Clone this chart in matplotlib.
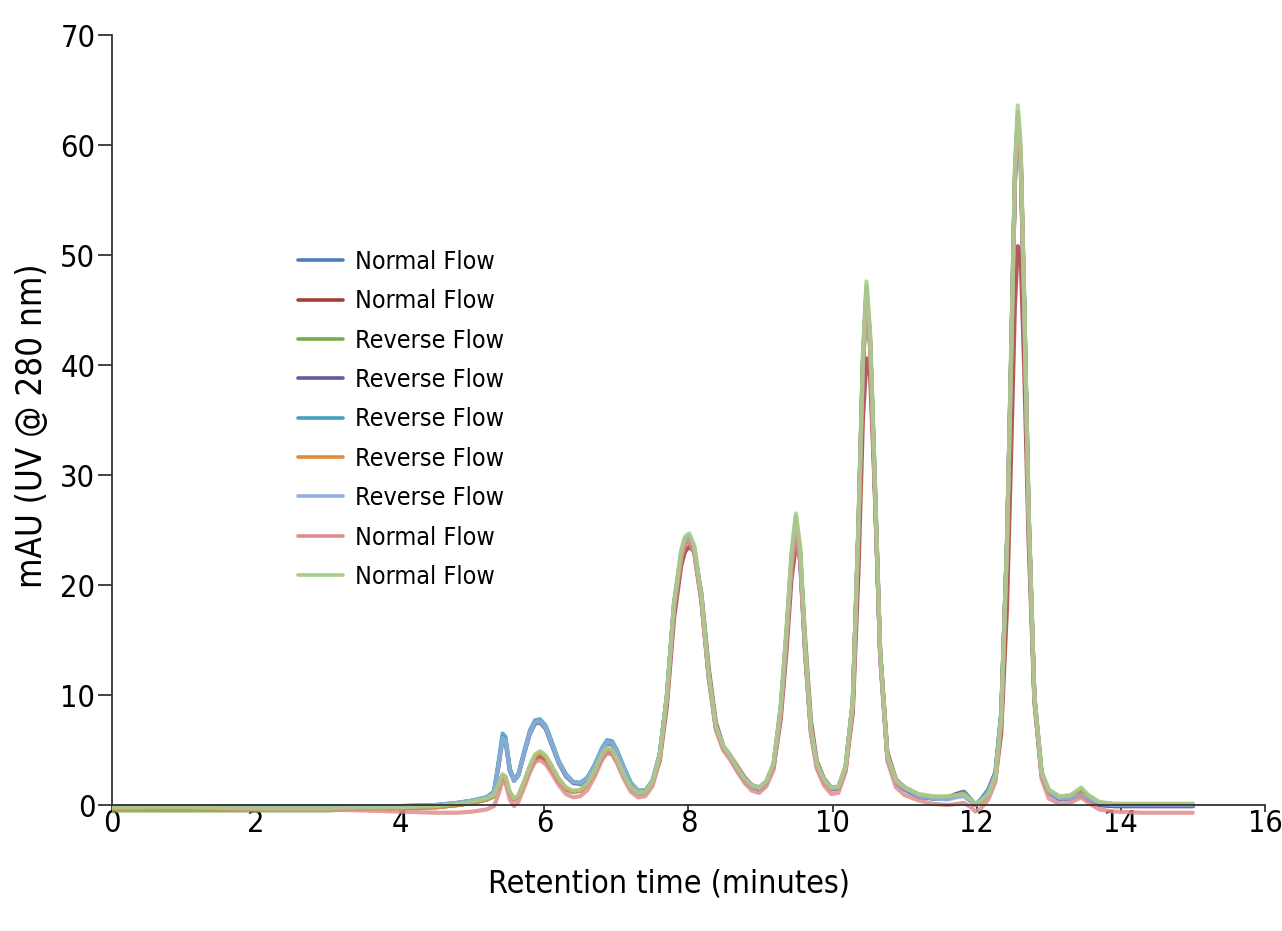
import numpy as np
import matplotlib.pyplot as plt
from matplotlib import font_manager

# retention time grid (minutes), shared by all traces
t = [0.0, 1.0, 2.0, 3.0, 3.5, 4.0, 4.5, 4.8, 5.0, 5.2,
     5.3, 5.36, 5.42, 5.46, 5.52, 5.58, 5.64, 5.72, 5.8, 5.87,
     5.94, 6.02, 6.1, 6.2, 6.3, 6.4, 6.5, 6.6, 6.7, 6.8,
     6.87, 6.94, 7.0, 7.1, 7.2, 7.3, 7.4, 7.5, 7.6, 7.7,
     7.8, 7.9, 7.95, 8.01, 8.08, 8.18, 8.28, 8.38, 8.48, 8.58,
     8.68, 8.78, 8.88, 8.98, 9.08, 9.18, 9.28, 9.36, 9.43, 9.49,
     9.55, 9.62, 9.7, 9.78, 9.88, 9.98, 10.08, 10.18, 10.28, 10.36,
     10.42, 10.47, 10.52, 10.58, 10.66, 10.76, 10.88, 11.0, 11.2, 11.4,
     11.6, 11.72, 11.82, 11.92, 11.98, 12.06, 12.16, 12.26, 12.34, 12.42,
     12.48, 12.53, 12.57, 12.61, 12.66, 12.72, 12.8, 12.9, 13.0, 13.15,
     13.3, 13.45, 13.55, 13.7, 13.9, 14.3, 15.0]

normal_blue = [-0.1, -0.1, -0.1, -0.1, -0.1, -0.1, 0.0, 0.2, 0.4, 0.7,
               1.2, 3.5, 6.2, 6.0, 3.2, 2.3, 2.8, 4.8, 6.6, 7.5,
               7.6, 7.0, 5.6, 3.9, 2.7, 2.1, 2.0, 2.5, 3.6, 5.0,
               5.7, 5.6, 5.0, 3.4, 2.0, 1.3, 1.3, 2.2, 4.6, 9.9,
               18.2, 22.8, 24.0, 24.3, 23.2, 18.7, 11.8, 7.1, 5.3, 4.4,
               3.3, 2.3, 1.7, 1.5, 2.1, 3.6, 8.6, 15.3, 22.0, 25.3,
               22.4, 13.8, 6.7, 3.6, 2.2, 1.5, 1.6, 3.4, 9.3, 25.4,
               40.0, 46.5, 42.0, 30.3, 13.7, 4.4, 2.1, 1.5, 0.8, 0.6,
               0.6, 0.9, 1.1, 0.4, 0.0, 0.5, 1.3, 2.9, 8.2, 23.6,
               41.3, 57.0, 62.5, 59.0, 45.2, 26.5, 9.8, 2.8, 1.2, 0.6,
               0.7, 1.0, 0.6, 0.1, 0.0, 0.0, 0.0]

normal_red = [-0.3, -0.3, -0.3, -0.3, -0.3, -0.3, -0.2, 0.0, 0.2, 0.5,
              0.8, 1.6, 2.5, 2.3, 1.0, 0.5, 0.8, 2.0, 3.2, 4.1,
              4.4, 4.0, 3.2, 2.1, 1.4, 1.2, 1.3, 1.9, 3.0, 4.3,
              4.9, 4.7, 4.1, 2.7, 1.6, 1.2, 1.3, 2.0, 4.0, 9.0,
              17.0, 21.8, 23.0, 23.5, 23.0, 19.2, 12.5, 7.5, 5.4, 4.5,
              3.5, 2.5, 1.8, 1.6, 2.1, 3.4, 7.8, 14.0, 20.6, 23.6,
              22.6, 15.0, 7.6, 4.0, 2.4, 1.6, 1.6, 3.2, 8.4, 21.5,
              35.0, 40.6, 39.0, 29.5, 14.0, 4.8, 2.3, 1.6, 0.8, 0.6,
              0.7, 1.0, 1.2, 0.5, 0.0, 0.4, 1.2, 2.4, 6.5, 18.0,
              32.5, 45.5, 50.8, 50.0, 39.5, 24.0, 9.5, 2.8, 1.2, 0.6,
              0.6, 0.9, 0.5, 0.0, -0.1, -0.1, -0.1]

reverse_green = [-0.5, -0.5, -0.5, -0.5, -0.3, -0.3, -0.2, 0.0, 0.2, 0.5,
                 0.8, 1.7, 2.7, 2.5, 1.1, 0.5, 0.8, 2.1, 3.5, 4.5,
                 4.8, 4.4, 3.5, 2.3, 1.5, 1.2, 1.3, 1.9, 3.1, 4.5,
                 5.1, 4.9, 4.2, 2.7, 1.5, 1.0, 1.1, 2.0, 4.4, 9.9,
                 18.4, 23.0, 24.2, 24.5, 23.4, 18.9, 11.9, 7.1, 5.3, 4.4,
                 3.3, 2.3, 1.7, 1.5, 2.1, 3.7, 8.9, 15.8, 22.7, 26.2,
                 23.2, 14.3, 6.9, 3.7, 2.2, 1.5, 1.6, 3.5, 9.4, 25.8,
                 40.6, 47.2, 42.6, 30.7, 13.9, 4.5, 2.2, 1.6, 0.9, 0.7,
                 0.7, 0.8, 0.9, 0.4, 0.0, 0.3, 0.9, 2.5, 7.9, 23.8,
                 41.6, 57.4, 63.0, 59.4, 45.5, 26.7, 9.9, 3.0, 1.3, 0.7,
                 0.8, 1.4, 0.8, 0.2, 0.0, 0.0, 0.0]

reverse_purple = [-0.2, -0.2, -0.2, -0.2, -0.2, -0.2, -0.1, 0.1, 0.3, 0.6,
                  1.1, 3.4, 6.0, 5.8, 3.1, 2.2, 2.7, 4.7, 6.5, 7.4,
                  7.5, 6.9, 5.5, 3.8, 2.6, 2.0, 1.9, 2.4, 3.5, 4.9,
                  5.6, 5.5, 4.9, 3.3, 1.9, 1.2, 1.2, 2.1, 4.5, 9.8,
                  18.0, 22.6, 23.8, 24.1, 23.0, 18.5, 11.7, 7.0, 5.2, 4.3,
                  3.2, 2.2, 1.6, 1.4, 2.0, 3.5, 8.5, 15.1, 21.7, 25.0,
                  22.2, 13.7, 6.6, 3.5, 2.1, 1.4, 1.5, 3.3, 9.2, 25.2,
                  39.8, 46.2, 41.8, 30.1, 13.6, 4.3, 2.0, 1.4, 0.7, 0.6,
                  0.7, 1.0, 1.2, 0.5, 0.0, 0.5, 1.4, 3.0, 8.4, 23.8,
                  41.0, 56.6, 62.0, 58.5, 44.8, 26.3, 9.7, 2.7, 1.1, 0.5,
                  0.6, 0.9, 0.5, 0.0, -0.1, -0.1, -0.1]

reverse_teal = [-0.1, -0.1, -0.1, -0.1, -0.1, -0.1, 0.0, 0.2, 0.4, 0.7,
                1.2, 3.7, 6.5, 6.2, 3.3, 2.3, 2.8, 4.9, 6.8, 7.7,
                7.8, 7.2, 5.8, 4.0, 2.8, 2.1, 2.0, 2.5, 3.7, 5.2,
                5.9, 5.8, 5.1, 3.5, 2.0, 1.3, 1.3, 2.2, 4.6, 9.9,
                18.3, 22.9, 24.1, 24.4, 23.3, 18.8, 11.8, 7.1, 5.3, 4.4,
                3.3, 2.3, 1.7, 1.5, 2.1, 3.6, 8.7, 15.5, 22.3, 25.6,
                22.7, 14.0, 6.8, 3.7, 2.2, 1.5, 1.6, 3.4, 9.4, 25.6,
                40.3, 46.8, 42.3, 30.5, 13.8, 4.4, 2.1, 1.5, 0.8, 0.6,
                0.6, 0.9, 1.2, 0.5, 0.0, 0.5, 1.3, 2.9, 8.2, 23.7,
                41.4, 57.1, 62.6, 59.1, 45.3, 26.6, 9.8, 2.8, 1.2, 0.6,
                0.7, 1.1, 0.7, 0.2, 0.0, 0.0, 0.0]

reverse_orange = [-0.3, -0.3, -0.3, -0.3, -0.3, -0.3, -0.2, 0.0, 0.2, 0.5,
                  0.8, 1.7, 2.6, 2.4, 1.1, 0.5, 0.8, 2.1, 3.4, 4.4,
                  4.7, 4.3, 3.4, 2.3, 1.5, 1.2, 1.3, 1.9, 3.1, 4.5,
                  5.1, 4.9, 4.2, 2.7, 1.5, 1.1, 1.2, 2.0, 4.4, 9.8,
                  18.2, 22.8, 24.0, 24.3, 23.2, 18.7, 11.8, 7.1, 5.3, 4.4,
                  3.3, 2.3, 1.7, 1.5, 2.1, 3.6, 8.8, 15.6, 22.4, 25.8,
                  22.9, 14.1, 6.8, 3.7, 2.2, 1.5, 1.6, 3.5, 9.3, 25.6,
                  40.3, 46.8, 42.3, 30.5, 13.8, 4.5, 2.2, 1.6, 0.9, 0.7,
                  0.7, 0.9, 1.0, 0.4, 0.0, 0.3, 1.0, 2.6, 7.9, 23.7,
                  41.4, 57.1, 62.6, 59.1, 45.3, 26.6, 9.9, 3.0, 1.3, 0.7,
                  0.8, 1.3, 0.8, 0.2, 0.1, 0.1, 0.1]

reverse_lightblue = [-0.1, -0.1, -0.2, -0.2, -0.1, -0.1, 0.0, 0.2, 0.4, 0.7,
                     1.1, 3.5, 6.1, 5.9, 3.2, 2.2, 2.7, 4.8, 6.6, 7.5,
                     7.6, 7.0, 5.6, 3.9, 2.7, 2.1, 2.0, 2.5, 3.6, 5.0,
                     5.7, 5.6, 5.0, 3.4, 2.0, 1.3, 1.3, 2.2, 4.6, 9.9,
                     18.2, 22.8, 24.0, 24.3, 23.2, 18.7, 11.8, 7.1, 5.3, 4.4,
                     3.3, 2.3, 1.7, 1.5, 2.1, 3.6, 8.6, 15.4, 22.1, 25.4,
                     22.5, 13.9, 6.7, 3.6, 2.2, 1.5, 1.6, 3.4, 9.3, 25.5,
                     40.1, 46.6, 42.1, 30.4, 13.7, 4.4, 2.1, 1.5, 0.8, 0.6,
                     0.5, 0.7, 0.8, 0.3, 0.0, 0.4, 1.2, 2.8, 8.0, 23.5,
                     41.2, 56.9, 62.4, 58.9, 45.1, 26.5, 9.8, 2.8, 1.2, 0.6,
                     0.6, 0.9, 0.6, 0.1, 0.0, 0.0, 0.0]

normal_pink = [-0.3, -0.2, -0.4, -0.4, -0.5, -0.6, -0.7, -0.7, -0.6, -0.4,
               -0.1, 0.9, 2.2, 2.0, 0.5, -0.1, 0.3, 1.6, 3.0, 3.9,
               4.1, 3.7, 2.9, 1.8, 1.0, 0.7, 0.8, 1.4, 2.6, 4.1,
               4.7, 4.6, 3.9, 2.4, 1.2, 0.7, 0.8, 1.7, 4.1, 9.5,
               17.8, 22.5, 23.7, 24.0, 22.9, 18.4, 11.5, 6.8, 5.0, 4.1,
               3.0, 2.0, 1.3, 1.1, 1.7, 3.2, 8.2, 14.9, 21.6, 24.8,
               22.0, 13.5, 6.4, 3.3, 1.8, 1.0, 1.1, 3.0, 8.8, 24.9,
               39.6, 46.0, 41.5, 29.9, 13.4, 4.0, 1.6, 0.9, 0.4, 0.1,
               0.0, 0.1, 0.2, -0.2, -0.6, -0.3, 0.5, 2.1, 7.5, 23.2,
               40.9, 56.6, 62.0, 58.4, 44.6, 26.1, 9.4, 2.4, 0.6, 0.1,
               0.2, 0.7, 0.2, -0.4, -0.6, -0.7, -0.7]

normal_lightgreen = [-0.2, -0.2, -0.3, -0.3, -0.2, -0.2, -0.1, 0.1, 0.3, 0.6,
                     0.9, 1.8, 2.8, 2.6, 1.2, 0.6, 0.9, 2.2, 3.6, 4.6,
                     4.9, 4.5, 3.6, 2.4, 1.6, 1.3, 1.4, 2.0, 3.2, 4.6,
                     5.2, 5.0, 4.3, 2.8, 1.6, 1.1, 1.2, 2.1, 4.5, 10.0,
                     18.5, 23.2, 24.4, 24.7, 23.6, 19.0, 12.0, 7.2, 5.4, 4.5,
                     3.4, 2.4, 1.8, 1.6, 2.2, 3.8, 9.0, 16.0, 23.0, 26.5,
                     23.5, 14.5, 7.0, 3.8, 2.3, 1.6, 1.7, 3.5, 9.5, 26.0,
                     41.0, 47.6, 43.0, 31.0, 14.0, 4.5, 2.2, 1.6, 1.0, 0.8,
                     0.8, 0.9, 1.0, 0.5, 0.1, 0.4, 1.0, 2.6, 8.0, 24.0,
                     42.0, 58.0, 63.6, 60.0, 46.0, 27.0, 10.0, 3.0, 1.4, 0.8,
                     0.9, 1.6, 0.9, 0.3, 0.1, 0.1, 0.1]

traces = [normal_blue, normal_red, reverse_green, reverse_purple, reverse_teal,
          reverse_orange, reverse_lightblue, normal_pink, normal_lightgreen]
labels = ['Normal Flow', 'Normal Flow', 'Reverse Flow', 'Reverse Flow', 'Reverse Flow',
          'Reverse Flow', 'Reverse Flow', 'Normal Flow', 'Normal Flow']
colors = ['#4f7dba', '#a83c3c', '#7bab48', '#68589a', '#45a0bf',
          '#e08a3a', '#8fb0da', '#dc8e8e', '#a9cd8c']

# look for a narrow/condensed face, like the original artwork
fonts = font_manager.fontManager.ttflist
cond = [f.name for f in fonts if 'condensed' in str(f.stretch).lower()
        or 'Narrow' in f.name or 'Condensed' in f.name]
if cond:
    plt.rcParams['font.family'] = [cond[0], 'DejaVu Sans']
    plt.rcParams['font.stretch'] = 'condensed'
    fs_tick, fs_xlab, fs_ylab, fs_leg = 22, 23, 25, 18
else:
    plt.rcParams['font.family'] = ['Liberation Sans', 'DejaVu Sans']
    fs_tick, fs_xlab, fs_ylab, fs_leg = 21, 22, 23, 17

fig = plt.figure(figsize=(12.82, 9.31), dpi=100)
ax = fig.add_axes([0.0874, 0.1235, 0.8993, 0.8389])

for y, lab, c in zip(traces, labels, colors):
    ax.plot(t, y, color=c, lw=3.0, alpha=0.85, label=lab, solid_capstyle='round')

ax.set_xlim(0, 16)
ax.set_ylim(-1, 70)
ax.set_xticks(np.arange(0, 17, 2))
ax.set_yticks(np.arange(0, 71, 10))

ax.spines['top'].set_visible(False)
ax.spines['right'].set_visible(False)
ax.spines['bottom'].set_position(('data', 0))
ax.spines['left'].set_bounds(0, 70)
for s in ['bottom', 'left']:
    ax.spines[s].set_color('#333333')
    ax.spines[s].set_linewidth(1.3)
ax.tick_params(axis='both', direction='out', width=1.3, color='#333333', labelsize=fs_tick)
ax.tick_params(axis='x', length=5, pad=-2)
ax.tick_params(axis='y', length=10, pad=2)

ax.set_xlabel('Retention time (minutes)', fontsize=fs_xlab, labelpad=22)
ax.xaxis.label.set_x(0.483)
ax.set_ylabel('mAU (UV @ 280 nm)', fontsize=fs_ylab, labelpad=8)

leg = ax.legend(loc='upper left', bbox_to_anchor=(0.2325, 0.7315), bbox_transform=fig.transFigure,
                frameon=False, fontsize=fs_leg, handlelength=1.8, handletextpad=0.48,
                labelspacing=0.615, borderpad=0, borderaxespad=0)
for h in leg.get_lines():
    h.set_linewidth(2.6)
    h.set_alpha(1)

fig.savefig('out.png', dpi=100)
